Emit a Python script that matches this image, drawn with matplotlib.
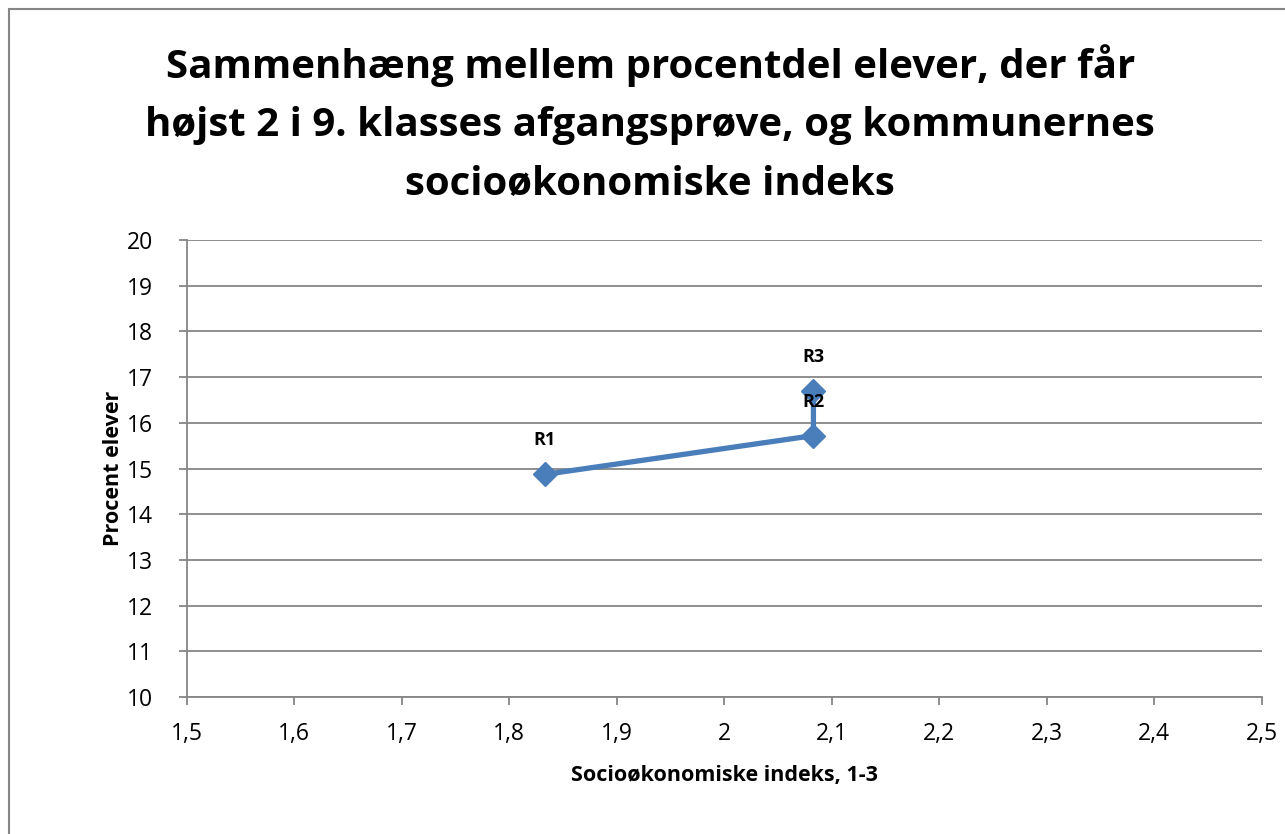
import matplotlib

matplotlib.use("Agg")
import matplotlib.pyplot as plt
from matplotlib.patches import Rectangle

# socio-economic index vs. share of pupils with grade <= 2
labels = ["R1", "R2", "R3"]
index_values = [1.833, 2.083, 2.083]
pct_pupils = [14.87, 15.72, 16.70]

x_ticks = [1.5, 1.6, 1.7, 1.8, 1.9, 2.0, 2.1, 2.2, 2.3, 2.4, 2.5]
x_tick_labels = ["1,5", "1,6", "1,7", "1,8", "1,9", "2", "2,1", "2,2", "2,3", "2,4", "2,5"]
y_ticks = list(range(10, 21))

plt.rcParams["font.family"] = ["Open Sans", "DejaVu Sans"]
grid_col = "#868686"
line_col = "#4A7EBB"

fig = plt.figure(figsize=(12.85, 8.34), dpi=100)
fig.patches.append(Rectangle((9 / 1285, -0.01), 1.02, 1 - 9 / 834 + 0.01,
                             transform=fig.transFigure, fill=False,
                             edgecolor=grid_col, linewidth=1.5))

ax = fig.add_axes([186.7 / 1285, 1 - 697 / 834, (1261.7 - 186.7) / 1285, (697 - 240) / 834])
ax.plot(index_values, pct_pupils, color=line_col, linewidth=3.8,
        marker="D", markersize=12, markerfacecolor=line_col, markeredgecolor=line_col,
        solid_capstyle="round")
for lab, x, y in zip(labels, index_values, pct_pupils):
    ax.annotate(lab, (x, y), xytext=(0, 18), textcoords="offset points",
                ha="center", va="bottom", fontsize=13, fontweight="bold")

ax.set_xlim(1.5, 2.5)
ax.set_ylim(10, 20)
ax.set_xticks(x_ticks)
ax.set_xticklabels(x_tick_labels)
ax.set_yticks(y_ticks)
ax.tick_params(axis="both", labelsize=16.5, length=6, width=1.3, color=grid_col,
               direction="out")
ax.tick_params(axis="y", pad=18)
ax.tick_params(axis="x", pad=12)
ax.grid(axis="y", color=grid_col, linewidth=1.3)
ax.set_axisbelow(True)
for side in ["top", "right"]:
    ax.spines[side].set_visible(False)
for side in ["left", "bottom"]:
    ax.spines[side].set_color(grid_col)
    ax.spines[side].set_linewidth(1.3)

ax.set_xlabel("Socioøkonomiske indeks, 1-3", fontsize=15.5, fontweight="bold", labelpad=14)
ax.set_ylabel("Procent elever", fontsize=15.5, fontweight="bold", labelpad=2)

fig.text(0.506, 1 - 124 / 834,
         "Sammenhæng mellem procentdel elever, der får\n"
         "højst 2 i 9. klasses afgangsprøve, og kommunernes\n"
         "socioøkonomiske indeks",
         ha="center", va="center", fontsize=29, fontweight="bold", linespacing=1.66)

fig.savefig("out.png", dpi=100)
